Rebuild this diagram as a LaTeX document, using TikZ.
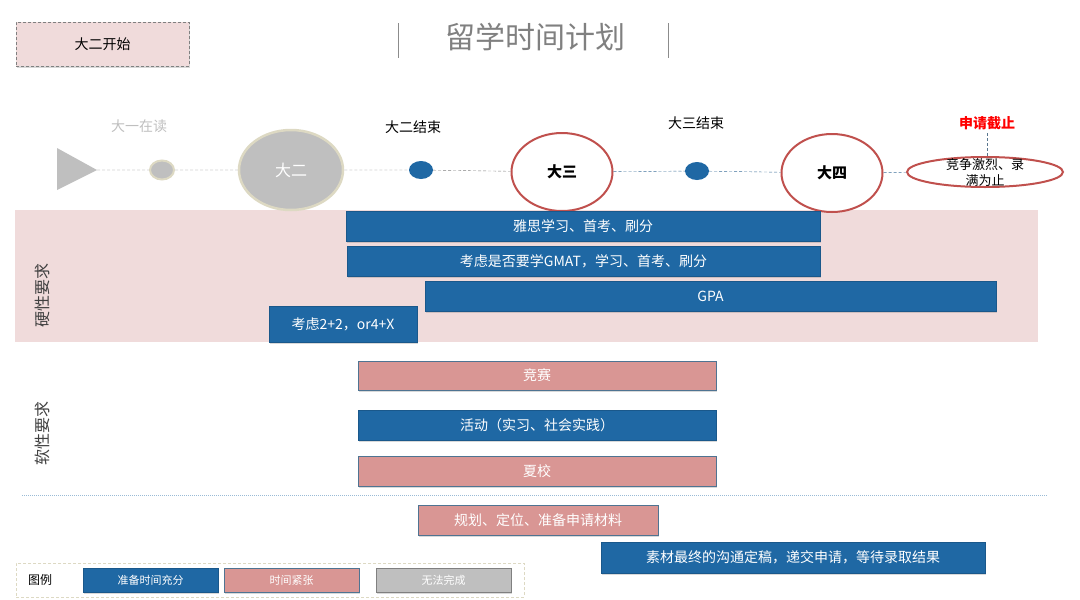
\documentclass[tikz,border=0pt]{standalone}
\usepackage{fontspec}
\setmainfont{Noto Sans CJK SC}
\usetikzlibrary{positioning, shapes.geometric, shadows}
\definecolor{barblue}{HTML}{1F68A4}
\definecolor{barpink}{HTML}{D99694}
\definecolor{bandpink}{HTML}{F0DBDB}
\definecolor{ringred}{HTML}{C0504D}
\definecolor{greyfill}{HTML}{BFBFBF}
\definecolor{beige}{HTML}{DDD9C3}
\tikzset{
bar/.style={shape=rectangle, inner sep=0, text=white, font=\fontsize{14}{16}\selectfont, drop shadow={shadow xshift=1pt, shadow yshift=-1.5pt, opacity=0.3}},
ready/.style={bar, fill=barblue, draw=barblue!85!black}, tight/.style={bar, fill=barpink, draw=barblue!50!gray}, lost/.style={bar, fill=greyfill, draw=gray},
year/.style={ellipse, minimum width=101pt, minimum height=78pt, inner sep=0, draw=ringred, line width=2pt, fill=white, font=\fontsize{15}{17}\selectfont\bfseries},
dot/.style={ellipse, minimum width=24pt, minimum height=18pt, inner sep=0, fill=barblue},
past/.style={ellipse, inner sep=0, fill=greyfill, draw=beige, line width=2pt},
stage/.style={font=\fontsize{14}{16}\selectfont},
side/.style={rotate=90, font=\fontsize{16}{18}\selectfont, text=black!75}}

\begin{document}
\begin{tikzpicture}[x=1pt, y=-1pt]
\useasboundingbox (0,0) rectangle (1080,600);
% header
\node [rectangle, minimum width=173pt, minimum height=44pt, fill=bandpink, draw=gray, densely dashed, font=\fontsize{14}{16}\selectfont, drop shadow={shadow xshift=1pt, shadow yshift=-1.5pt, opacity=0.3}] at (102.5,44) (start) {大二开始};
\node [font=\fontsize{30}{32}\selectfont, text=black!50] at (535,37) (title) {留学时间计划};
\draw [black!45, line width=1pt] (398,23) -- (398,58);
\draw [black!45, line width=1pt] (668,23) -- (668,58);
% bands
\fill [bandpink] (15,210) rectangle (1038,342);
\node [side] at (42,295) (hard) {硬性要求};
\node [side] at (42,433) (soft) {软性要求};
% timeline
\fill [greyfill] (57,148) -- (97,170) -- (57,190) -- cycle;
\coordinate (tri) at (97,170);
\node [past, minimum width=24pt, minimum height=19pt] at (162,170) (c-1) {};
\node [past, minimum width=104pt, minimum height=80pt, line width=2.5pt, text=white, font=\fontsize{16}{18}\selectfont] at (291,170) (c-2) {大二};
\node [dot] at (421,170) (d-1) {};
\node [year] at (562,172) (c-3) {大三};
\node [dot] at (697,171) (d-2) {};
\node [year] at (832,173) (c-4) {大四};
\node [ellipse, minimum width=156pt, minimum height=30pt, inner sep=0, draw=ringred, line width=2pt] at (985,172) (end) {};
\node [stage, align=center, font=\fontsize{13}{16}\selectfont] at (985,172) (end-txt) {竞争激烈、录\\满为止};
\node [stage, text=black!25] at (139,126) (l-1) {大一在读};
\node [stage] at (413,127) (l-2) {大二结束};
\node [stage] at (696,123) (l-3) {大三结束};
\node [stage, text=red, font=\fontsize{14}{16}\selectfont\bfseries] at (987,123) (deadline) {申请截止};
\draw [gray, densely dashed] (tri) -- (c-1) -- (c-2) -- (d-1) -- (c-3);
\draw [barblue!70!gray, densely dashed] (c-3) -- (d-2) -- (c-4) -- (end);
\draw [barblue!40!gray, densely dashed] (deadline.south) -- (deadline.south |- end.north);
% bars
\foreach \xa/\xb/\ya/\yb/\kind/\txt [count=\i, evaluate={\xc=(\xa+\xb)/2; \yc=(\ya+\yb)/2; \w=\xb-\xa; \h=\yb-\ya;}] in {
  346/820/211/241/ready/雅思学习、首考、刷分,
  347/820/246/276/ready/考虑是否要学GMAT，学习、首考、刷分,
  425/996/281/311/ready/GPA,
  269/417/306/342/ready/考虑2+2，or4+X,
  358/716/361/390/tight/竞赛,
  358/716/410/440/ready/活动（实习、社会实践）,
  358/716/456/486/tight/夏校,
  418/658/505/535/tight/规划、定位、准备申请材料,
  601/985/542/573/ready/素材最终的沟通定稿，递交申请，等待录取结果}{
  \node [\kind, minimum width=\w pt, minimum height=\h pt] at (\xc,\yc) (bar-\i) {\txt};
}
\draw [barblue!45!white, densely dotted, line width=1pt] (22,495) -- (1048,495);
% legend
\node [rectangle, minimum width=508pt, minimum height=34pt, draw=beige, densely dashed] at (270,580) (legend) {};
\node [font=\fontsize{12}{14}\selectfont] at (40,580) (legend-t) {图例};
\foreach \xc/\kind/\txt [count=\i] in {150.5/ready/准备时间充分, 291.5/tight/时间紧张, 443.5/lost/无法完成}{
  \node [\kind, minimum width=135pt, minimum height=24pt, font=\fontsize{11}{13}\selectfont] at (\xc,580) (key-\i) {\txt};
}
\end{tikzpicture}
\end{document}
